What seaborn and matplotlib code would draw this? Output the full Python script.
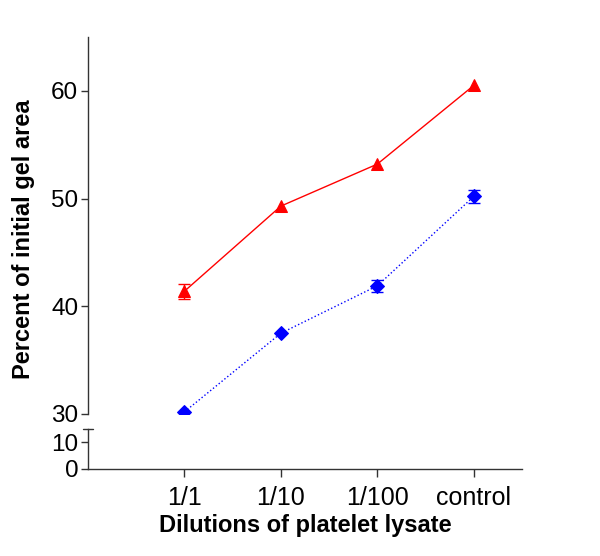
import numpy as np
import pandas as pd
import matplotlib
matplotlib.use("Agg")
import matplotlib.pyplot as plt
import seaborn as sns

dilutions = ["1/1", "1/10", "1/100", "control"]
red_vals = [41.4, 49.3, 53.2, 60.5]
red_err = [0.7, 0.0, 0.0, 0.0]
blue_vals = [30.2, 37.5, 41.9, 50.2]
blue_err = [0.0, 0.0, 0.55, 0.63]

sns.set_style("ticks")
plt.rcParams['font.family'] = ['Liberation Sans', 'DejaVu Sans']
plt.rcParams['text.color'] = 'black'
plt.rcParams['axes.labelcolor'] = 'black'
plt.rcParams['xtick.color'] = 'black'
plt.rcParams['ytick.color'] = 'black'

df = pd.DataFrame({"dilution": dilutions * 2,
                   "value": red_vals + blue_vals,
                   "group": ["red"] * 4 + ["blue"] * 4})

fig = plt.figure(figsize=(6, 5.56), dpi=100)
ax = fig.add_axes([0.1467, 0.2554, 0.7233, 0.6781])
ax2 = fig.add_axes([0.1467, 0.1565, 0.7233, 0.0719], sharex=ax)

xs = np.arange(len(dilutions))
for a in (ax, ax2):
    sns.lineplot(data=df[df.group == "red"], x="dilution", y="value", ax=a,
                 color="red", marker="^", markersize=9, markeredgecolor="red",
                 linewidth=1, legend=False)
    sns.lineplot(data=df[df.group == "blue"], x="dilution", y="value", ax=a,
                 color="blue", marker="D", markersize=7.5, markeredgecolor="blue",
                 linewidth=1, linestyle=":", legend=False)
    re = np.array(red_err)
    be = np.array(blue_err)
    a.errorbar(xs[re > 0], np.array(red_vals)[re > 0], yerr=re[re > 0], fmt="none",
               ecolor="red", capsize=4.5, elinewidth=1)
    a.errorbar(xs[be > 0], np.array(blue_vals)[be > 0], yerr=be[be > 0], fmt="none",
               ecolor="blue", capsize=4.5, elinewidth=1)
    for s in ["top", "right"]:
        a.spines[s].set_visible(False)
    for s in ["left", "bottom"]:
        a.spines[s].set_color("#333333")
        a.spines[s].set_linewidth(1)

ax.set_ylim(30, 65)
ax.set_yticks([30, 40, 50, 60])
ax.spines["bottom"].set_visible(False)
ax.tick_params(axis="x", bottom=False, labelbottom=False)
ax.tick_params(axis="y", labelsize=17.5, length=5, width=1, color="#333333", pad=2)
ax.set_xlabel("")
ax.set_ylabel("Percent of initial gel area", fontsize=17, fontweight="bold")
ax.yaxis.set_label_coords(-0.122, 0.464)

ax2.set_ylim(0, 15)
ax2.set_yticks([0, 10])
ax2.set_xlim(-1, 3.5)
ax2.tick_params(axis="y", labelsize=17.5, length=5, width=1, color="#333333", pad=2)
ax2.tick_params(axis="x", labelsize=18, length=6, width=1, color="#333333", pad=6)
ax2.set_ylabel("")
ax2.set_xlabel("Dilutions of platelet lysate", fontsize=17, fontweight="bold", labelpad=3)
# small cap at the top of the lower axis segment
ax2.plot([-0.012, 0.012], [1, 1], color="#333333", lw=1, clip_on=False,
         transform=ax2.transAxes)

fig.savefig("out.png", dpi=100)
